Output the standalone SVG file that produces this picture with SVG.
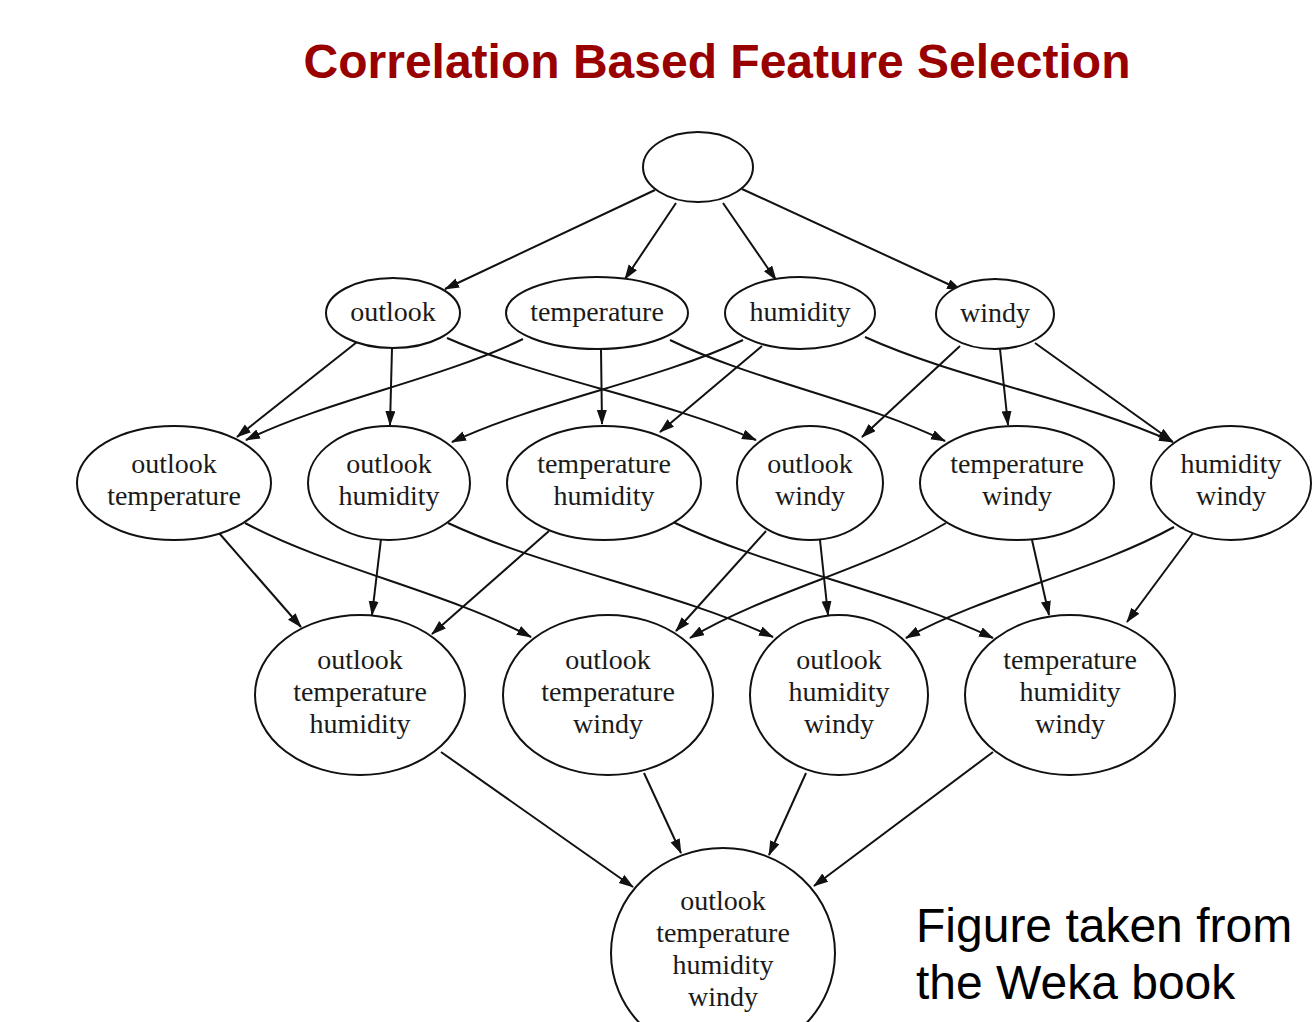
<svg xmlns="http://www.w3.org/2000/svg" width="1313" height="1022" viewBox="0 0 1313 1022">
  <style>
    .node ellipse { fill: #fff; stroke: #111; stroke-width: 2; }
    .node text { font-family: "Liberation Serif", "Times New Roman", serif; font-size: 28px; fill: #1a1a1a; text-anchor: middle; }
    .edges path { fill: none; stroke: #111; stroke-width: 2; marker-end: url(#arrow); }
    .title { font-family: "Liberation Sans", Arial, sans-serif; font-weight: bold; font-size: 48px; fill: #990000; text-anchor: middle; }
    .note { font-family: "Liberation Sans", Arial, sans-serif; font-size: 48px; fill: #000; }
  </style>
  <defs>
    <marker id="arrow" markerUnits="userSpaceOnUse" markerWidth="18" markerHeight="12" refX="14" refY="5" orient="auto">
      <path d="M0,0 L15,5 L0,10 z" fill="#111"/>
    </marker>
  </defs>

  <rect width="1313" height="1022" fill="#fff"/>

  <text class="title" x="717" y="78">Correlation Based Feature Selection</text>

  <!-- connectors -->
  <g class="edges">
    <!-- empty set to single attributes -->
    <path d="M655,190 L445,289"/>
    <path d="M676,203 L625,279"/>
    <path d="M723,203 L776,280"/>
    <path d="M742,189 L961,290"/>
    <!-- singles to pairs -->
    <path d="M357,342 L237,437"/>
    <path d="M392,348 L390,425"/>
    <path d="M447,338 C539.7,378.8 663.3,399.2 756,440"/>
    <path d="M523,339 C439.9,379.4 329.1,399.6 246,440"/>
    <path d="M601,349 L602,424"/>
    <path d="M670,340 C752.5,380.4 862.5,400.6 945,441"/>
    <path d="M743,340 C655.7,380.8 539.3,401.2 452,442"/>
    <path d="M762,346 L660,432"/>
    <path d="M865,337 C957.4,379 1080.6,400 1173,442"/>
    <path d="M960,346 L862,437"/>
    <path d="M1000,349 L1008,425"/>
    <path d="M1035,343 L1172,441"/>
    <!-- pairs to triples -->
    <path d="M219,533 L301,627"/>
    <path d="M245,523 C330.8,568.6 445.2,591.4 531,637"/>
    <path d="M381,539 L372,615"/>
    <path d="M448,523 C545.5,568.6 675.5,591.4 773,637"/>
    <path d="M549,531 L432,634"/>
    <path d="M673,522 C769,568.4 897,591.6 993,638"/>
    <path d="M766,531 L676,631"/>
    <path d="M820,540 L828,615"/>
    <path d="M946,523 C869.2,569 766.8,592 690,638"/>
    <path d="M1032,540 L1049,615"/>
    <path d="M1174,527 C1093.6,571.4 986.4,593.6 906,638"/>
    <path d="M1193,533 L1127,622"/>
    <!-- triples to full set -->
    <path d="M441,752 L633,887"/>
    <path d="M644,773 L681,853"/>
    <path d="M806,773 L769,855"/>
    <path d="M993,752 L814,886"/>
  </g>

  <!-- nodes -->
  <g id="n-empty" class="node"><ellipse cx="698" cy="167" rx="55" ry="35"/></g>

  <g id="n-o" class="node"><ellipse cx="393" cy="313" rx="67" ry="35"/><text x="393" y="321">outlook</text></g>
  <g id="n-t" class="node"><ellipse cx="597" cy="313" rx="91" ry="36"/><text x="597" y="321">temperature</text></g>
  <g id="n-h" class="node"><ellipse cx="800" cy="313" rx="75" ry="36"/><text x="800" y="321">humidity</text></g>
  <g id="n-w" class="node"><ellipse cx="995" cy="314" rx="59" ry="35"/><text x="995" y="322">windy</text></g>

  <g id="n-ot" class="node"><ellipse cx="174" cy="483" rx="97" ry="57"/><text x="174" y="473">outlook</text><text x="174" y="505">temperature</text></g>
  <g id="n-oh" class="node"><ellipse cx="389" cy="483" rx="81" ry="57"/><text x="389" y="473">outlook</text><text x="389" y="505">humidity</text></g>
  <g id="n-th" class="node"><ellipse cx="604" cy="483" rx="97" ry="57"/><text x="604" y="473">temperature</text><text x="604" y="505">humidity</text></g>
  <g id="n-ow" class="node"><ellipse cx="810" cy="483" rx="73" ry="57"/><text x="810" y="473">outlook</text><text x="810" y="505">windy</text></g>
  <g id="n-tw" class="node"><ellipse cx="1017" cy="483" rx="97" ry="57"/><text x="1017" y="473">temperature</text><text x="1017" y="505">windy</text></g>
  <g id="n-hw" class="node"><ellipse cx="1231" cy="483" rx="80" ry="57"/><text x="1231" y="473">humidity</text><text x="1231" y="505">windy</text></g>

  <g id="n-oth" class="node"><ellipse cx="360" cy="695" rx="105" ry="80"/><text x="360" y="669">outlook</text><text x="360" y="701">temperature</text><text x="360" y="733">humidity</text></g>
  <g id="n-otw" class="node"><ellipse cx="608" cy="695" rx="105" ry="80"/><text x="608" y="669">outlook</text><text x="608" y="701">temperature</text><text x="608" y="733">windy</text></g>
  <g id="n-ohw" class="node"><ellipse cx="839" cy="695" rx="89" ry="80"/><text x="839" y="669">outlook</text><text x="839" y="701">humidity</text><text x="839" y="733">windy</text></g>
  <g id="n-thw" class="node"><ellipse cx="1070" cy="695" rx="105" ry="80"/><text x="1070" y="669">temperature</text><text x="1070" y="701">humidity</text><text x="1070" y="733">windy</text></g>

  <g id="n-othw" class="node"><ellipse cx="723" cy="953" rx="112" ry="105"/><text x="723" y="910">outlook</text><text x="723" y="942">temperature</text><text x="723" y="974">humidity</text><text x="723" y="1006">windy</text></g>

  <text class="note" x="916" y="942">Figure taken from</text>
  <text class="note" x="916" y="999">the Weka book</text>
</svg>
